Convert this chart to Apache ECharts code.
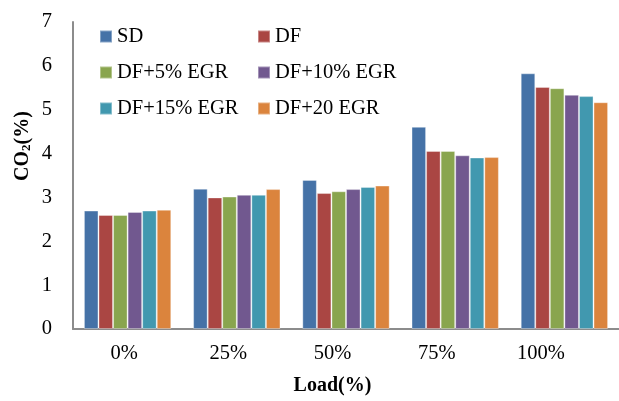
<!DOCTYPE html>
<html>
<head>
<meta charset="utf-8">
<script src="https://cdn.jsdelivr.net/npm/echarts@6/dist/echarts.min.js"></script>
<style>html,body{margin:0;padding:0;background:#fff}#c{width:619px;height:401px}</style>
</head>
<body>
<div id="c"></div>
<script>
const categories = ['0%', '25%', '50%', '75%', '100%'];
const seriesNames = ['SD', 'DF', 'DF+5% EGR', 'DF+10% EGR', 'DF+15% EGR', 'DF+20 EGR'];
const SD    = [2.70, 3.20, 3.40, 4.61, 5.83];
const DF    = [2.60, 3.00, 3.10, 4.06, 5.52];
const DF5   = [2.60, 3.02, 3.14, 4.06, 5.49];
const DF10  = [2.67, 3.06, 3.19, 3.96, 5.34];
const DF15  = [2.70, 3.06, 3.24, 3.91, 5.31];
const DF20  = [2.72, 3.19, 3.27, 3.92, 5.17];
const yTicks = [0, 1, 2, 3, 4, 5, 6, 7];
const colors = ['#4572A7', '#AA4643', '#89A54E', '#71588F', '#4198AF', '#DB843D'];
const values = [SD, DF, DF5, DF10, DF15, DF20];

const FONT = '"Liberation Serif", "DejaVu Serif", serif';
const chart = echarts.init(document.getElementById('c'), null, {renderer: 'canvas'});
const legendStyle = {fontFamily: FONT, fontSize: 20.5, color: '#000'};
chart.setOption({
  animation: false,
  color: colors,
  legend: [
    {orient: 'vertical', left: 99, top: 26, padding: 0, itemWidth: 12, itemHeight: 12, itemGap: 15,
     data: [seriesNames[0], seriesNames[2], seriesNames[4]], textStyle: legendStyle,
     icon: 'rect', selectedMode: false},
    {orient: 'vertical', left: 257, top: 26, padding: 0, itemWidth: 12, itemHeight: 12, itemGap: 15,
     data: [seriesNames[1], seriesNames[3], seriesNames[5]], textStyle: legendStyle,
     icon: 'rect', selectedMode: false}
  ],
  grid: [
    {left: 73, top: 22, width: 558, bottom: 72, containLabel: false},
    {left: 72, top: 22, width: 521, bottom: 72, containLabel: false}
  ],
  xAxis: [
    {type: 'category', gridIndex: 0, data: categories,
     axisLine: {show: true, lineStyle: {color: '#8c8c8c', width: 2}},
     axisTick: {show: false}, axisLabel: {show: false}},
    {type: 'category', gridIndex: 1, data: categories,
     axisLine: {show: false}, axisTick: {show: false},
     axisLabel: {show: true, margin: 24, fontFamily: FONT, fontSize: 20.5, color: '#000'},
     name: 'Load(%)', nameLocation: 'middle', nameGap: 57,
     nameTextStyle: {fontFamily: FONT, fontSize: 20, fontWeight: 'bold', color: '#000'}}
  ],
  yAxis: [
    {type: 'value', gridIndex: 0, min: 0, max: 7, interval: 1,
     axisLine: {show: true, lineStyle: {color: '#8c8c8c', width: 2}},
     axisTick: {show: false}, splitLine: {show: false},
     axisLabel: {margin: 21, fontFamily: FONT, fontSize: 20.5, color: '#000',
       formatter: v => yTicks.includes(v) ? String(v) : ''}},
    {type: 'value', gridIndex: 1, min: 0, max: 7, show: false}
  ],
  graphic: [{
    type: 'text', x: 23, y: 146, rotation: Math.PI / 2,
    style: {
      text: '{a|CO}{b|2}{a|(%)}',
      rich: {
        a: {fontFamily: FONT, fontSize: 20, fontWeight: 'bold', fill: '#000'},
        b: {fontFamily: FONT, fontSize: 13, fontWeight: 'bold', fill: '#000', padding: [8, 0, 0, 0]}
      },
      align: 'center', verticalAlign: 'middle'
    }
  }],
  series: values.map((d, i) => ({
    name: seriesNames[i], type: 'bar', xAxisIndex: 0, yAxisIndex: 0, data: d,
    barGap: '0%', barCategoryGap: '20%',
    itemStyle: {color: colors[i], borderColor: 'rgba(255,255,255,0.35)', borderWidth: 1}
  }))
});
</script>
</body>
</html>
